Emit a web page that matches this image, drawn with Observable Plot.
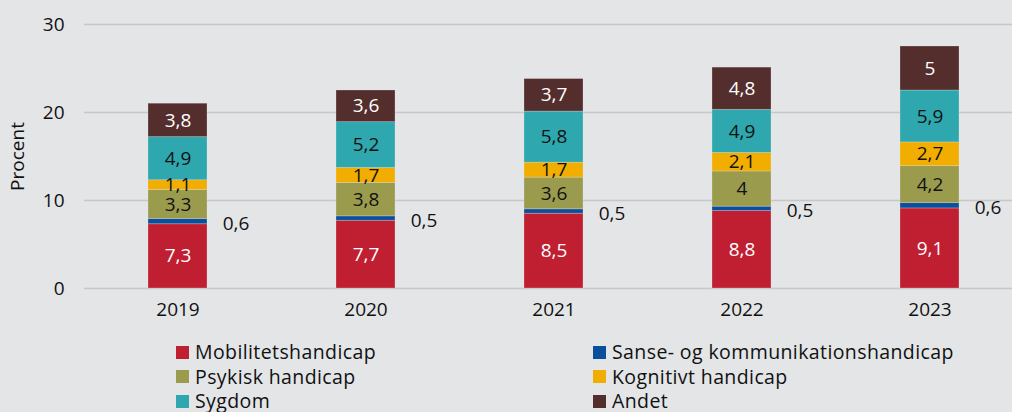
<!DOCTYPE html>
<html>
<head>
<meta charset="utf-8">
<script src="https://cdn.jsdelivr.net/npm/d3@7"></script>
<script src="https://cdn.jsdelivr.net/npm/@observablehq/plot@0.6"></script>
<style>
  html, body { margin: 0; padding: 0; background: #e4e5e7; overflow: hidden; }
  body { width: 1012px; height: 412px; font-family: "Open Sans", "Noto Sans", sans-serif; }
  #chart svg { display: block; background: #e4e5e7; }
  #legend { position: relative; height: 72px; font-size: 19.5px; letter-spacing: 0.4px; color: #111; }
  .item { position: absolute; display: flex; align-items: center; white-space: nowrap; line-height: 24px; }
  .sw { width: 13px; height: 13px; margin-right: 6px; flex: none; }
</style>
</head>
<body>
<div id="chart"></div>
<div id="legend"></div>
<script>
const years = ["2019", "2020", "2021", "2022", "2023"];
const categories = ["Mobilitetshandicap", "Sanse- og kommunikationshandicap", "Psykisk handicap", "Kognitivt handicap", "Sygdom", "Andet"];
const colors = ["#c01f32", "#0b4f9c", "#9b9b4e", "#f2ae00", "#2ea8ae", "#532e2d"];
const mobilitet = [7.3, 7.7, 8.5, 8.8, 9.1];
const sanse = [0.6, 0.5, 0.5, 0.5, 0.6];
const psykisk = [3.3, 3.8, 3.6, 4.0, 4.2];
const kognitivt = [1.1, 1.7, 1.7, 2.1, 2.7];
const sygdom = [4.9, 5.2, 5.8, 4.9, 5.9];
const andet = [3.8, 3.6, 3.7, 4.8, 5.0];
const yTicks = [0, 10, 20, 30];

const series = [mobilitet, sanse, psykisk, kognitivt, sygdom, andet];
const data = [];
categories.forEach((c, i) => years.forEach((y, j) => data.push({year: y, cat: c, value: series[i][j]})));

const fmt = v => String(v).replace(".", ",");
const whiteCats = new Set(["Mobilitetshandicap", "Andet"]);
const outsideCat = "Sanse- og kommunikationshandicap";

const stackOpts = extra => Plot.stackY({x: "year", y: "value", z: "cat", ...extra});

const chart = Plot.plot({
  width: 1012,
  height: 340,
  marginTop: 24,
  marginBottom: 52,
  marginLeft: 84,
  marginRight: 0,
  style: {background: "#e4e5e7", fontFamily: "'Open Sans', 'Noto Sans', sans-serif", fontSize: "18px", color: "#111", overflow: "visible"},
  x: {domain: years, range: [84, 1024], paddingInner: 0.686, paddingOuter: 0.343, label: null},
  y: {domain: [0, 30], ticks: yTicks, label: null},
  color: {domain: categories, range: colors},
  marks: [
    Plot.ruleY(yTicks, {stroke: "#c6c7c9", strokeWidth: 1.5}),
    Plot.barY(data, stackOpts({fill: "cat", stroke: "#e4e5e7", strokeOpacity: 0.35, strokeWidth: 0.8})),
    Plot.text(data, stackOpts({text: d => whiteCats.has(d.cat) ? fmt(d.value) : "", fill: "white", fontSize: 19, letterSpacing: "0.3px"})),
    Plot.text(data, stackOpts({text: d => (!whiteCats.has(d.cat) && d.cat !== outsideCat) ? fmt(d.value) : "", fill: "#111", fontSize: 19, letterSpacing: "0.3px"})),
    Plot.text(data, stackOpts({text: d => d.cat === outsideCat ? fmt(d.value) : "", fill: "#111", fontSize: 19, letterSpacing: "0.3px", dx: 58, dy: 2})),
    Plot.axisY({ticks: yTicks, tickSize: 0, tickPadding: 20, fontSize: 19, label: null}),
    Plot.axisX({tickSize: 0, tickPadding: 14, fontSize: 19, label: null}),
    Plot.text(["Procent"], {frameAnchor: "left", textAnchor: "middle", dx: -67, rotate: -90, fontSize: 19, letterSpacing: "1.5px", fill: "#111"})
  ]
});
document.getElementById("chart").appendChild(chart);

const legend = document.getElementById("legend");
const positions = [[176, 0], [593, 0], [176, 24.5], [593, 24.5], [176, 49], [593, 49]];
categories.forEach((c, i) => {
  const el = document.createElement("div");
  el.className = "item";
  el.style.left = positions[i][0] + "px";
  el.style.top = positions[i][1] + "px";
  el.innerHTML = `<span class="sw" style="background:${colors[i]}"></span><span>${c}</span>`;
  legend.appendChild(el);
});
</script>
</body>
</html>
